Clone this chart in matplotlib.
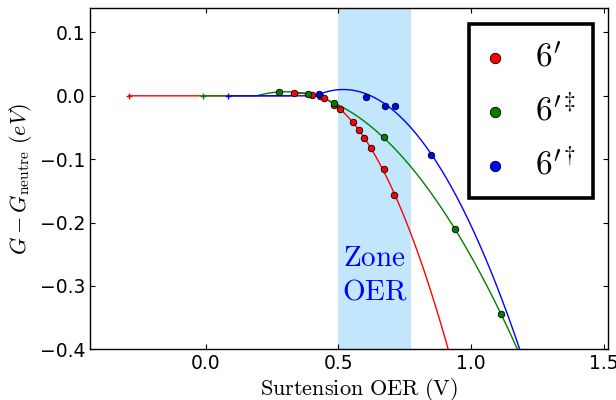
import numpy as np
import matplotlib
matplotlib.use("Agg")
import matplotlib.pyplot as plt

plt.rcParams['mathtext.fontset'] = 'cm'
plt.rcParams['font.family'] = ['DejaVu Sans']

# ---- data ----
red_x = [0.334, 0.400, 0.430, 0.447, 0.482, 0.507, 0.556, 0.576, 0.596, 0.624, 0.670, 0.709]
red_y = [0.004, 0.0015, -0.001, -0.004, -0.015, -0.0215, -0.041, -0.0535, -0.0666, -0.0823, -0.116, -0.156]
green_x = [0.277, 0.384, 0.482, 0.670, 0.9375, 1.113]
green_y = [0.0063, 0.0025, -0.011, -0.0656, -0.2097, -0.345]
blue_x = [0.427, 0.602, 0.675, 0.714, 0.848]
blue_y = [0.0036, -0.0016, -0.0163, -0.0163, -0.0934]
line_start = {'red': -0.29, 'green': -0.01, 'blue': 0.083}
labels = [r'$6^{\prime}$', r'$6^{\prime\ddagger}$', r'$6^{\prime\dagger}$']
zone = (0.5, 0.772)
xticks = [0.0, 0.5, 1.0, 1.5]
yticks = [0.1, 0.0, -0.1, -0.2, -0.3, -0.4]

colors = {'red': '#ff0000', 'green': '#008000', 'blue': '#0000ff'}
series = [('red', red_x, red_y), ('green', green_x, green_y), ('blue', blue_x, blue_y)]

fig = plt.figure(figsize=(6.16, 4.0), dpi=100)
ax = fig.add_axes([0.146, 0.127, 0.9865 - 0.146, 0.979 - 0.127])

ax.axvspan(zone[0], zone[1], color='lightskyblue', alpha=0.5, lw=0, zorder=0)

handles = []
for (name, xs_, ys_), lab in zip(series, labels):
    p = np.polyfit(xs_, ys_, 2)
    x0 = line_start[name]
    xx = np.linspace(x0, 1.6, 1000)
    q = np.polyval(p, xx)
    xv = -p[1] / (2 * p[0])
    yy = np.where(xx < xv, np.maximum(q, 0), q)
    ax.plot(xx, yy, color=colors[name], lw=1.0, zorder=2)
    ax.plot([x0], [0], marker='+', color=colors[name], ms=5, mew=1.0, zorder=2)
    h = ax.scatter(xs_, ys_, s=22, c=colors[name], edgecolors='black', linewidths=0.6, zorder=3, label=lab)
    handles.append(h)

ax.text(np.mean(zone), -0.283, r'$\mathrm{Zone}$' + '\n' + r'$\mathrm{OER}$', color='blue',
        fontsize=21, ha='center', va='center', linespacing=1.25)

ax.set_xlim(-0.436, 1.514)
ax.set_ylim(-0.4, 0.138)
ax.set_xticks(xticks)
ax.set_yticks(yticks)
ax.set_xticklabels([f'{t:.1f}' for t in xticks])
ax.set_yticklabels([f'{t:.1f}'.replace('-', '\u2212') for t in yticks])
ax.tick_params(direction='in', top=True, right=True, length=3.5, width=0.8, labelsize=13.5, pad=3.5)
for s in ax.spines.values():
    s.set_linewidth(1.0)

ax.set_xlabel(r'$\mathrm{Surtension\ OER\ (V)}$', fontsize=16)
ax.xaxis.set_label_coords(0.52, -0.08)
ax.set_ylabel(r'$G-G_{\mathrm{neutre}}\ (eV)$', fontsize=16)

leg = ax.legend(handles=handles, loc='upper right', bbox_to_anchor=(0.9716, 0.954),
                borderaxespad=0, fontsize=24, markerscale=1.6, fancybox=False, framealpha=1,
                handletextpad=0.9, labelspacing=0.62, borderpad=0.5, handlelength=0.6)
leg.get_frame().set_edgecolor('black')
leg.get_frame().set_linewidth(2.6)

fig.savefig('out.png', dpi=100)
